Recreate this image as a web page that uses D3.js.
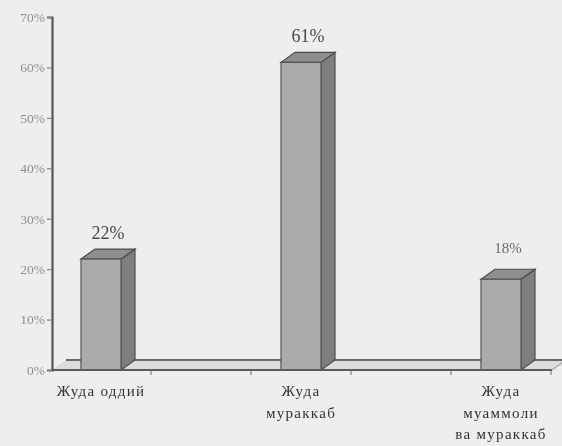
<!DOCTYPE html>
<html>
<head>
<meta charset="utf-8">
<script src="https://cdn.jsdelivr.net/npm/d3@7/dist/d3.min.js"></script>
<style>
  html, body { margin: 0; padding: 0; background: #eeeeee; }
  svg { display: block; }
</style>
</head>
<body>
<div id="chart"></div>
<script>
// Chart data
const categories = ["Жуда оддий", "Жуда мураккаб", "Жуда муаммоли ва мураккаб"];
const categoryLines = [["Жуда оддий"], ["Жуда", "мураккаб"], ["Жуда", "муаммоли", "ва мураккаб"]];
const values = [0.22, 0.61, 0.18];
const valueLabels = ["22%", "61%", "18%"];
const yTicks = [0, 0.1, 0.2, 0.3, 0.4, 0.5, 0.6, 0.7];

const W = 562, H = 446;
const svg = d3.select("#chart").append("svg")
  .attr("width", W).attr("height", H);

svg.append("rect").attr("width", W).attr("height", H).attr("fill", "#eeeeee");

const defs = svg.append("defs");
defs.append("filter").attr("id", "soft")
  .append("feGaussianBlur").attr("stdDeviation", 0.45);
defs.append("filter").attr("id", "softer")
  .append("feGaussianBlur").attr("stdDeviation", 0.6);

const g = svg.append("g").attr("filter", "url(#soft)");

// Scales
const x = d3.scaleBand().domain(categories).range([1, 601])
  .paddingInner(0.8).paddingOuter(0.4);
const y = d3.scaleLinear().domain([0, 0.7]).range([370, 17]);
const depthX = 14, depthY = -10;
const x0 = 52, x1 = 552;

// Floor
const base = y(0);
g.append("polygon")
  .attr("points", [[x0, base], [x1, base], [x1 + depthX, base + depthY], [x0 + depthX, base + depthY]].join(" "))
  .attr("fill", "#dcdcdc");
g.append("line")
  .attr("x1", x0 + depthX).attr("x2", x1 + depthX)
  .attr("y1", base + depthY).attr("y2", base + depthY)
  .attr("stroke", "#6a6a6a").attr("stroke-width", 2);
g.append("line")
  .attr("x1", x1).attr("y1", base).attr("x2", x1 + depthX).attr("y2", base + depthY)
  .attr("stroke", "#aaaaaa").attr("stroke-width", 1.5);

// Bars: side, top, front
const bars = g.selectAll(".bar").data(categories).enter().append("g").attr("class", "bar");
bars.each(function (c, i) {
  const sel = d3.select(this);
  const bx = x(c), bw = x.bandwidth(), top = y(values[i]);
  sel.append("polygon")
    .attr("points", [[bx + bw, top], [bx + bw + depthX, top + depthY], [bx + bw + depthX, base + depthY], [bx + bw, base]].join(" "))
    .attr("fill", "#7e7e7e").attr("stroke", "#505050").attr("stroke-width", 1.2);
  sel.append("polygon")
    .attr("points", [[bx, top], [bx + depthX, top + depthY], [bx + bw + depthX, top + depthY], [bx + bw, top]].join(" "))
    .attr("fill", "#8e8e8e").attr("stroke", "#4a4a4a").attr("stroke-width", 1.2);
  sel.append("rect")
    .attr("x", bx).attr("y", top).attr("width", bw).attr("height", base - top)
    .attr("fill", "#ababab").attr("stroke", "#555555").attr("stroke-width", 1.2);
});

// Front edge of floor
g.append("line")
  .attr("x1", x0).attr("x2", x1).attr("y1", base).attr("y2", base)
  .attr("stroke", "#5a5a5a").attr("stroke-width", 2);

// Minor ticks below the floor edge
const tickPos = [];
categories.forEach(c => {
  const cx = x(c) + x.bandwidth() / 2;
  tickPos.push(cx + x.step() / 4);
  if (c !== categories[0]) tickPos.push(cx - x.step() / 4);
});
g.selectAll(".xt").data(tickPos).enter().append("line")
  .attr("x1", d => d).attr("x2", d => d)
  .attr("y1", base + 1).attr("y2", base + 5)
  .attr("stroke", "#9a9a9a").attr("stroke-width", 1.5);

// Y axis
const yAxis = d3.axisLeft(y).tickValues(yTicks).tickFormat(d3.format(".0%"))
  .tickSize(5).tickPadding(2);
const ya = g.append("g").attr("transform", `translate(${x0},0)`).call(yAxis);
ya.select(".domain").attr("stroke", "#555555").attr("stroke-width", 2.2);
ya.selectAll(".tick line").attr("stroke", "#888888").attr("stroke-width", 1.3);
ya.selectAll(".tick text")
  .attr("font-family", "'Liberation Serif', 'DejaVu Serif', serif")
  .attr("font-size", 13.5).attr("fill", "#8e8e8e")
  .attr("filter", "url(#softer)");

// Value labels
g.selectAll(".vl").data(categories).enter().append("text")
  .attr("x", (c) => x(c) + (x.bandwidth() + depthX) / 2)
  .attr("y", (c, i) => y(values[i]) + depthY - (i === 2 ? 16 : 10))
  .attr("text-anchor", "middle")
  .attr("font-family", "'Liberation Serif', 'DejaVu Serif', serif")
  .attr("font-size", (c, i) => i === 2 ? 15 : 18)
  .attr("fill", (c, i) => i === 2 ? "#6a6a6a" : "#4a4a4a")
  .text((c, i) => valueLabels[i]);

// Category labels
const cl = g.selectAll(".cl").data(categories).enter().append("text")
  .attr("text-anchor", "middle")
  .attr("font-family", "'Liberation Serif', 'DejaVu Serif', serif")
  .attr("font-size", 15).attr("letter-spacing", 1.3)
  .attr("fill", "#333333");
cl.each(function (c, i) {
  const cx = x(c) + x.bandwidth() / 2;
  categoryLines[i].forEach((line, j) => {
    d3.select(this).append("tspan")
      .attr("x", cx).attr("y", 396 + j * 21.5).text(line);
  });
});
</script>
</body>
</html>
